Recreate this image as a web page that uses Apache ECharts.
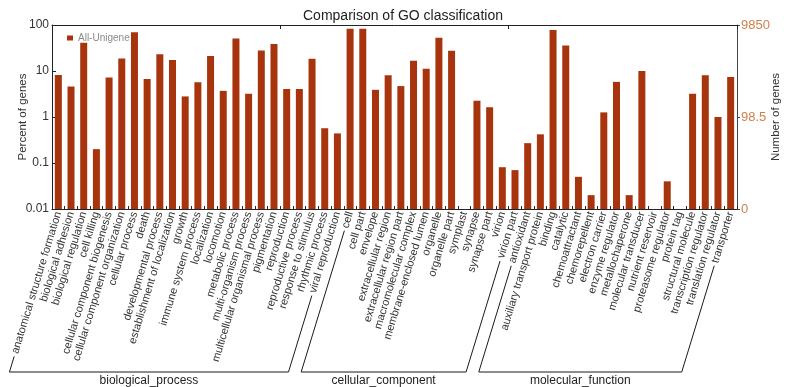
<!DOCTYPE html>
<html>
<head>
<meta charset="utf-8">
<script src="https://cdn.jsdelivr.net/npm/echarts@6/dist/echarts.min.js"></script>
<style>
  html, body { margin: 0; padding: 0; background: #fff; }
  #chart { width: 787px; height: 387px; }
</style>
</head>
<body>
<div id="chart"></div>
<script>
// GO terms per ontology, with percent of genes (null = no genes)
const bpTerms = ['anatomical structure formation', 'biological adhesion', 'biological regulation', 'cell killing',
  'cellular component biogenesis', 'cellular component organization', 'cellular process', 'death',
  'developmental process', 'establishment of localization', 'growth', 'immune system process',
  'localization', 'locomotion', 'metabolic process', 'multi-organism process',
  'multicellular organismal process', 'pigmentation', 'reproduction', 'reproductive process',
  'response to stimulus', 'rhythmic process', 'viral reproduction'];
const bpPercent = [8.2, 4.6, 41, 0.2, 7.2, 18.8, 70, 6.7, 23, 17.3, 2.8, 5.7, 21.2, 3.7, 51, 3.2, 28, 38.6, 4.06, 4.06, 18.5, 0.57, 0.44];

const ccTerms = ['cell', 'cell part', 'envelope', 'extracellular region', 'extracellular region part',
  'macromolecular complex', 'membrane-enclosed lumen', 'organelle', 'organelle part', 'symplast',
  'synapse', 'synapse part', 'virion', 'virion part'];
const ccPercent = [83, 83, 3.9, 8.1, 4.7, 16.8, 11.2, 53, 27.7, null, 2.26, 1.63, 0.081, 0.07];

const mfTerms = ['antioxidant', 'auxiliary transport protein', 'binding', 'catalytic', 'chemoattractant',
  'chemorepellent', 'electron carrier', 'enzyme regulator', 'metallochaperone', 'molecular transducer',
  'nutrient reservoir', 'proteasome regulator', 'protein tag', 'structural molecule',
  'transcription regulator', 'translation regulator', 'transporter'];
const mfPercent = [0.27, 0.42, 78, 36, 0.05, 0.02, 1.26, 5.8, 0.02, 10, null, 0.04, null, 3.2, 8.1, 1.0, 7.4];

const ontologies = ['biological_process', 'cellular_component', 'molecular_function'];
const leftTicks = ['0.01', '0.1', '1', '10', '100'];
const rightTicks = ['0', '98.5', '9850'];
const seriesName = 'All-Unigene';

const categories = bpTerms.concat(ccTerms, mfTerms);
const percents = bpPercent.concat(ccPercent, mfPercent);
const groupSizes = [bpTerms.length, ccTerms.length, mfTerms.length];

const FONT = '"Liberation Sans", Arial, sans-serif';
const LABEL_SIZE = 11;
const LABEL_ROTATE = 73;
const LABEL_MARGIN = 3;
const BAR_COLOR = '#a8340e';

const chart = echarts.init(document.getElementById('chart'), null, { renderer: 'canvas' });

chart.setOption({
  animation: false,
  textStyle: { fontFamily: FONT },
  title: {
    text: 'Comparison of GO classification',
    left: 298, top: 4,
    textStyle: { fontSize: 14, fontWeight: 'normal', color: '#222', fontFamily: FONT }
  },
  legend: {
    data: [seriesName], left: 62, top: 28, icon: 'rect',
    itemWidth: 6, itemHeight: 5, itemGap: 4,
    textStyle: { fontSize: 10, color: '#8a8a8a', fontFamily: FONT }
  },
  grid: { left: 52, top: 25, width: 685, height: 184, containLabel: false, outerBoundsMode: 'none' },
  xAxis: [{
    type: 'category', data: categories, position: 'bottom',
    axisLine: { lineStyle: { color: '#222', width: 1 } },
    axisTick: { show: true, inside: true, length: 3, lineStyle: { color: '#222' } },
    axisLabel: { interval: 0, rotate: LABEL_ROTATE, margin: LABEL_MARGIN, fontSize: LABEL_SIZE, color: '#333', fontFamily: FONT }
  }, {
    type: 'category', data: categories, position: 'top',
    axisLine: { lineStyle: { color: '#222', width: 1 } },
    axisTick: { show: true, inside: true, length: 4, lineStyle: { color: '#222' } },
    axisLabel: { show: false }
  }],
  yAxis: [{
    type: 'log', logBase: 10, min: 0.01, max: 100, startValue: 0.01,
    name: 'Percent of genes', nameLocation: 'middle', nameGap: 23, nameMoveOverlap: false,
    nameTextStyle: { fontSize: 11.5, color: '#333', fontFamily: FONT },
    axisLine: { show: true, lineStyle: { color: '#222' } },
    axisTick: { show: true, inside: true, length: 4, lineStyle: { color: '#222' } },
    minorTick: { show: false },
    splitLine: { show: false },
    axisLabel: {
      fontSize: 12, color: '#333', margin: 3, fontFamily: FONT,
      formatter: v => leftTicks[Math.round(Math.log10(v)) + 2]
    }
  }, {
    type: 'value', min: 0, max: 2, interval: 1, position: 'right',
    name: 'Number of genes', nameLocation: 'middle', nameGap: 33, nameRotate: 90, nameMoveOverlap: false,
    nameTextStyle: { fontSize: 11.5, color: '#333', fontFamily: FONT },
    axisLine: { show: true, lineStyle: { color: '#3c4650' } },
    axisTick: { show: true, inside: false, length: 3, lineStyle: { color: '#3c4650' } },
    splitLine: { show: false },
    axisLabel: {
      fontSize: 13, color: '#d0804c', margin: 4, fontFamily: FONT,
      formatter: v => rightTicks[Math.round(v)]
    }
  }],
  series: [{
    name: seriesName, type: 'bar', xAxisIndex: 0, yAxisIndex: 0,
    data: percents, barWidth: 7,
    itemStyle: { color: BAR_COLOR }
  }]
});

// Ontology brackets under the rotated term labels
(function drawBrackets() {
  const ctx = document.createElement('canvas').getContext('2d');
  ctx.font = LABEL_SIZE + 'px ' + FONT;
  const rad = LABEL_ROTATE * Math.PI / 180;
  const dx = -Math.cos(rad), dy = Math.sin(rad);
  const axisY = chart.convertToPixel({ yAxisIndex: 0 }, 0.01);
  const baseY = 372;

  // point where a line continuing the label of category i meets y
  function labelFoot(i, y) {
    const x0 = chart.convertToPixel({ xAxisIndex: 0 }, i);
    const len = ctx.measureText(categories[i]).width + 3;
    const sx = x0 + dx * len, sy = axisY + LABEL_MARGIN + dy * len;
    const t = (y - sy) / dy;
    return { top: [sx, sy], bottom: [sx + dx * t, y] };
  }

  const elements = [];
  let start = 0;
  groupSizes.forEach((n, g) => {
    const first = labelFoot(start, baseY);
    const last = labelFoot(start + n - 1, baseY);
    elements.push({
      type: 'polyline',
      shape: { points: [first.top, first.bottom, last.bottom, last.top] },
      style: { stroke: '#1a1a1a', lineWidth: 1, fill: null }
    });
    elements.push({
      type: 'text',
      x: (first.bottom[0] + last.bottom[0]) / 2, y: baseY + 9,
      style: { text: ontologies[g], font: '12px ' + FONT, fill: '#222', align: 'center', verticalAlign: 'middle' }
    });
    start += n;
  });
  chart.setOption({ graphic: elements });
})();
</script>
</body>
</html>
